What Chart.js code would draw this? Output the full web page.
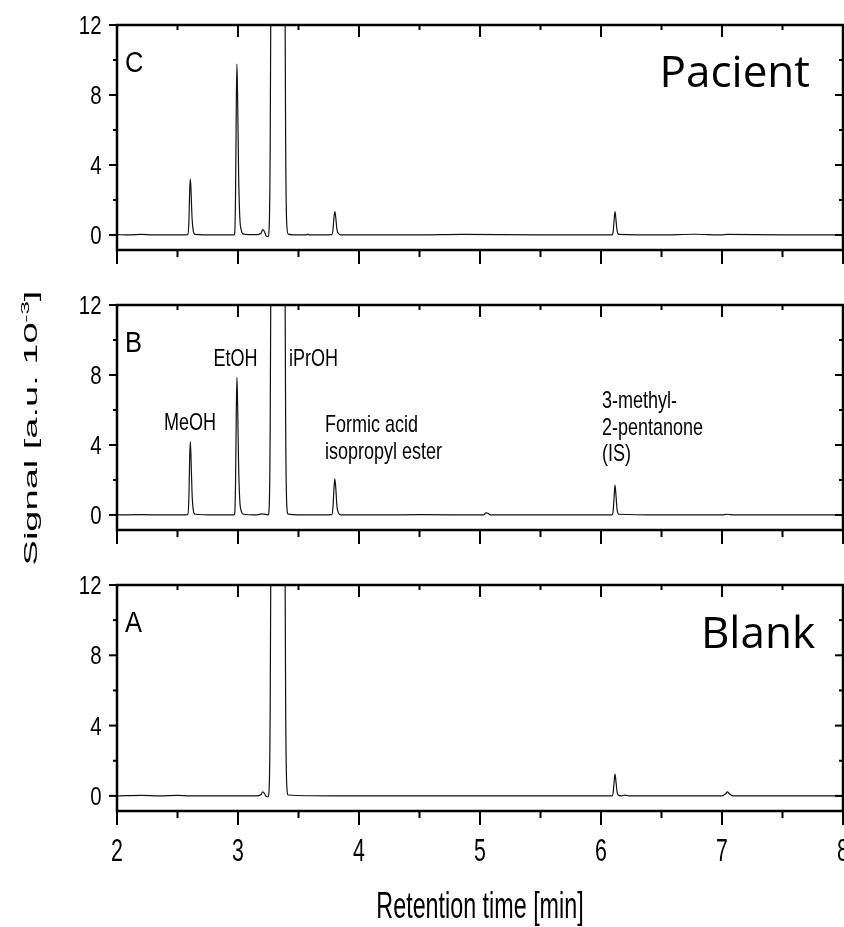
<!DOCTYPE html>
<html>
<head>
<meta charset="utf-8">
<script src="https://cdn.jsdelivr.net/npm/chart.js@4.4.1/dist/chart.umd.min.js"></script>
<style>
  html, body { margin: 0; padding: 0; background: #fff; }
  #fig { position: relative; width: 844px; height: 927px; overflow: hidden; background: #fff; }
  #fig canvas { position: absolute; left: 0; top: 0; }
</style>
</head>
<body>
<div id="fig">
  <canvas id="panelC" width="844" height="927"></canvas>
  <canvas id="panelB" width="844" height="927"></canvas>
  <canvas id="panelA" width="844" height="927"></canvas>
</div>
<script>
// ---- axis ranges and tick values ----
const timeRange = [2, 8];
const signalRange = [-0.86, 12];
const timeTicks = [2, 3, 4, 5, 6, 7, 8];
const signalTicks = [0, 4, 8, 12];

// ---- chromatograms: [retention time (min), signal (a.u. x 10^-3)] ----
const pacientTrace = [
  [2.00, 0.02], [2.10, 0.00], [2.20, 0.03], [2.30, 0.00], [2.45, 0.01], [2.57, 0.00],
  [2.585, 0.02], [2.595, 0.9], [2.600, 2.4], [2.606, 3.2], [2.612, 2.5], [2.620, 1.0], [2.630, 0.25], [2.645, 0.03],
  [2.80, 0.00], [2.965, 0.00],
  [2.972, 0.05], [2.980, 2.5], [2.986, 7.5], [2.991, 9.77], [2.997, 7.8], [3.005, 3.5], [3.015, 1.0], [3.028, 0.25], [3.045, 0.05],
  [3.15, 0.02], [3.19, 0.10], [3.205, 0.30], [3.218, 0.20], [3.235, -0.08], [3.248, -0.10],
  [3.258, 0.5], [3.266, 5], [3.274, 18], [3.29, 50], [3.33, 80], [3.37, 50], [3.386, 18], [3.394, 5], [3.403, 0.6], [3.415, 0.05],
  [3.50, 0.00], [3.565, 0.00], [3.575, 0.05], [3.59, 0.00], [3.775, 0.02],
  [3.785, 0.3], [3.793, 1.0], [3.800, 1.33], [3.808, 1.0], [3.817, 0.35], [3.830, 0.08], [3.850, 0.00],
  [4.50, 0.00], [4.85, 0.03], [5.50, 0.00], [6.09, 0.00],
  [6.100, 0.15], [6.108, 0.8], [6.116, 1.33], [6.124, 0.85], [6.133, 0.25], [6.148, 0.03],
  [6.50, 0.00], [6.77, 0.04], [7.00, 0.00], [7.04, 0.03], [7.50, 0.00], [8.00, 0.00]
];

const spikedTrace = [
  [2.00, 0.00], [2.20, 0.02], [2.40, 0.00], [2.57, 0.01],
  [2.585, 0.03], [2.595, 1.2], [2.600, 3.1], [2.606, 4.19], [2.612, 3.2], [2.620, 1.3], [2.630, 0.3], [2.645, 0.04],
  [2.80, 0.00], [2.965, 0.00],
  [2.972, 0.05], [2.980, 2.0], [2.986, 6.0], [2.991, 7.87], [2.997, 6.3], [3.005, 2.8], [3.015, 0.8], [3.028, 0.2], [3.045, 0.04],
  [3.15, 0.00], [3.20, 0.06], [3.23, 0.03], [3.248, 0.00],
  [3.258, 0.5], [3.266, 5], [3.274, 18], [3.29, 50], [3.33, 80], [3.37, 50], [3.386, 18], [3.394, 5], [3.403, 0.6], [3.415, 0.05],
  [3.60, 0.00], [3.775, 0.02],
  [3.785, 0.45], [3.793, 1.5], [3.800, 2.06], [3.808, 1.55], [3.817, 0.55], [3.830, 0.12], [3.850, 0.00],
  [4.20, 0.00], [4.50, 0.02], [5.03, 0.00], [5.05, 0.12], [5.065, 0.10], [5.085, 0.00], [5.60, 0.00], [6.09, 0.00],
  [6.100, 0.2], [6.108, 1.0], [6.116, 1.70], [6.124, 1.1], [6.133, 0.3], [6.148, 0.04],
  [6.50, 0.00], [7.00, 0.00], [7.04, 0.04], [7.10, 0.00], [8.00, 0.00]
];

const blankTrace = [
  [2.00, 0.00], [2.20, 0.03], [2.35, 0.00], [2.50, 0.03], [2.60, 0.00], [2.80, 0.00], [3.00, 0.00], [3.15, 0.00],
  [3.19, 0.08], [3.205, 0.23], [3.218, 0.15], [3.235, -0.05], [3.248, -0.05],
  [3.258, 0.5], [3.266, 5], [3.274, 18], [3.29, 50], [3.33, 80], [3.37, 50], [3.386, 18], [3.394, 5], [3.403, 0.6], [3.415, 0.05],
  [3.80, 0.00], [4.50, 0.00], [5.50, 0.00], [6.09, 0.00],
  [6.100, 0.15], [6.108, 0.75], [6.116, 1.24], [6.124, 0.8], [6.133, 0.22], [6.148, 0.03], [6.17, 0.00], [6.20, 0.04], [6.23, 0.00],
  [6.80, 0.00], [7.00, 0.00], [7.03, 0.12], [7.045, 0.23], [7.06, 0.12], [7.09, 0.00], [8.00, 0.00]
];

// ---- text ----
const panelLetters = ['C', 'B', 'A'];
const sampleNames = ['Pacient', '', 'Blank'];
const peakNames = [
  ['MeOH'],
  ['EtOH'],
  ['iPrOH'],
  ['Formic acid', 'isopropyl ester'],
  ['3-methyl-', '2-pentanone', '(IS)']
];
const xTitle = 'Retention time [min]';
const yTitle = ['Signal [a.u. 10', '-3', ']'];

// ---- layout (pixels / anchors) ----
const W = 844, H = 927;
const plotLeft = 117, plotRight = 843;
const panelBoxes = [
  { top: 25, bottom: 250 },
  { top: 305, bottom: 530 },
  { top: 585, bottom: 811 }
];
// anchor of each peak name: time, signal of first baseline, alignment
const peakNameAnchors = [
  { t: 2.604, s: 4.86, align: 'center' },
  { t: 2.979, s: 8.51, align: 'center' },
  { t: 3.421, s: 8.51, align: 'left' },
  { t: 3.719, s: 4.74, align: 'left' },
  { t: 6.008, s: 6.11, align: 'left' }
];
const SANS = '"Liberation Sans", Arial, sans-serif';

// text squeezed horizontally (rotated text: squeezed across its baseline)
function condensedText(ctx, text, x, y, size, family, sx, align, rotate) {
  ctx.save();
  ctx.translate(x, y);
  if (rotate) { ctx.rotate(-Math.PI / 2); ctx.scale(1, sx); }
  else ctx.scale(sx, 1);
  ctx.font = size + 'px ' + family;
  ctx.textAlign = align || 'left';
  ctx.textBaseline = 'alphabetic';
  ctx.fillStyle = '#000';
  ctx.fillText(text, 0, 0);
  ctx.restore();
}

// frame, inward/outward ticks, tick labels and panel texts
const framePlugin = {
  id: 'frame',
  afterDatasetsDraw(chart, args, o) {
    const { ctx, chartArea: a } = chart;
    const xs = chart.scales.x, ys = chart.scales.y;
    ctx.save();
    ctx.strokeStyle = '#000';
    ctx.lineCap = 'butt';
    ctx.lineWidth = 2;
    const tick = (x1, y1, x2, y2) => { ctx.beginPath(); ctx.moveTo(x1, y1); ctx.lineTo(x2, y2); ctx.stroke(); };
    const xv = xs.ticks.map(t => t.value);
    const yv = ys.ticks.map(t => t.value);
    // time ticks (major + halfway minors)
    for (let i = 0; i < xv.length; i++) {
      const px = xs.getPixelForValue(xv[i]);
      tick(px, a.bottom, px, a.bottom + 14);
      tick(px, a.top, px, a.top + 12);
      if (i < xv.length - 1) {
        const mx = xs.getPixelForValue((xv[i] + xv[i + 1]) / 2);
        tick(mx, a.bottom, mx, a.bottom + 7);
        tick(mx, a.top, mx, a.top + 5);
      }
    }
    // signal ticks
    for (let i = 0; i < yv.length; i++) {
      const py = ys.getPixelForValue(yv[i]);
      tick(a.left - 8, py, a.left, py);
      tick(a.right - 8, py, a.right, py);
      if (i < yv.length - 1) {
        const my = ys.getPixelForValue((yv[i] + yv[i + 1]) / 2);
        tick(a.left - 4, my, a.left, my);
        tick(a.right - 4, my, a.right, my);
      }
    }
    ctx.lineWidth = 2.5;
    ctx.strokeRect(a.left, a.top, a.right - a.left, a.bottom - a.top);
    ctx.restore();

    // tick labels
    ys.ticks.forEach(t => {
      condensedText(ctx, String(t.value), a.left - 15.5, ys.getPixelForValue(t.value) + 9, 25.5, SANS, 0.8, 'right');
    });
    if (o.xLabels) {
      xs.ticks.forEach(t => {
        condensedText(ctx, String(t.value), xs.getPixelForValue(t.value), a.bottom + 50, 30.5, SANS, 0.7, 'center');
      });
    }

    // panel letter
    condensedText(ctx, o.letter, a.left + 8, a.top + 47, 30, SANS, 0.85, 'left');
    // sample name
    if (o.name) {
      ctx.save();
      ctx.font = '44px "Open Sans", "Noto Sans", sans-serif';
      ctx.fillStyle = '#000';
      ctx.textAlign = 'right';
      ctx.textBaseline = 'alphabetic';
      ctx.fillText(o.name, o.nameRight, a.top + o.nameDrop);
      ctx.restore();
    }
    // peak names
    if (o.peaks) {
      peakNames.forEach((lines, i) => {
        const an = peakNameAnchors[i];
        const px = xs.getPixelForValue(an.t);
        const py = ys.getPixelForValue(an.s);
        lines.forEach((ln, k) => condensedText(ctx, ln, px, py + k * 26.5, 24, SANS, 0.75, an.align));
      });
    }
    // y title (spans the figure, drawn with the middle panel)
    if (o.yTitle) {
      const s = 38, sx = 0.48;
      const ss = Math.round(s * 0.62);
      ctx.save();
      ctx.font = s + 'px ' + SANS;
      const w0 = ctx.measureText(yTitle[0]).width;
      const w2 = ctx.measureText(yTitle[2]).width;
      ctx.font = ss + 'px ' + SANS;
      const w1 = ctx.measureText(yTitle[1]).width;
      ctx.restore();
      const total = w0 + w1 + w2;
      const bx = 37, cy = 428;
      const y0 = cy + total / 2;
      condensedText(ctx, yTitle[0], bx, y0, s, SANS, sx, 'left', true);
      condensedText(ctx, yTitle[1], bx - s * 0.42 * sx, y0 - w0, ss, SANS, sx, 'left', true);
      condensedText(ctx, yTitle[2], bx, y0 - w0 - w1, s, SANS, sx, 'left', true);
    }
    // x title
    if (o.xTitle) {
      condensedText(ctx, xTitle, (a.left + a.right) / 2, 918, 37, SANS, 0.63, 'center');
    }
  }
};

const traces = [pacientTrace, spikedTrace, blankTrace];
const ids = ['panelC', 'panelB', 'panelA'];

ids.forEach((id, p) => {
  const box = panelBoxes[p];
  const last = p === ids.length - 1;
  new Chart(document.getElementById(id), {
    type: 'line',
    data: {
      datasets: [{
        data: traces[p].map(([t, s]) => ({ x: t, y: s })),
        borderColor: '#111',
        borderWidth: 1.2,
        pointRadius: 0,
        cubicInterpolationMode: 'monotone',
        fill: false,
        clip: 0
      }]
    },
    options: {
      responsive: false,
      devicePixelRatio: 1,
      animation: false,
      events: [],
      layout: { padding: { left: 0, right: W - plotRight, top: box.top, bottom: H - box.bottom } },
      scales: {
        x: {
          type: 'linear',
          min: timeRange[0], max: timeRange[1],
          afterFit: s => { s.height = 0; s.paddingLeft = 0; s.paddingRight = 0; },
          afterBuildTicks: s => { s.ticks = timeTicks.map(v => ({ value: v })); },
          grid: { display: false, drawTicks: false },
          border: { display: false },
          ticks: { display: false }
        },
        y: {
          type: 'linear',
          min: signalRange[0], max: signalRange[1],
          afterFit: s => { s.width = plotLeft; s.paddingTop = 0; s.paddingBottom = 0; },
          afterBuildTicks: s => { s.ticks = signalTicks.map(v => ({ value: v })); },
          grid: { display: false, drawTicks: false },
          border: { display: false },
          ticks: { display: false }
        }
      },
      plugins: {
        legend: { display: false },
        tooltip: { enabled: false },
        frame: {
          letter: panelLetters[p],
          name: sampleNames[p],
          nameRight: p === 0 ? 810 : 815,
          nameDrop: p === 0 ? 62 : 63,
          peaks: p === 1,
          yTitle: p === 1,
          xTitle: last,
          xLabels: last
        }
      }
    },
    plugins: [framePlugin]
  });
});
</script>
</body>
</html>
